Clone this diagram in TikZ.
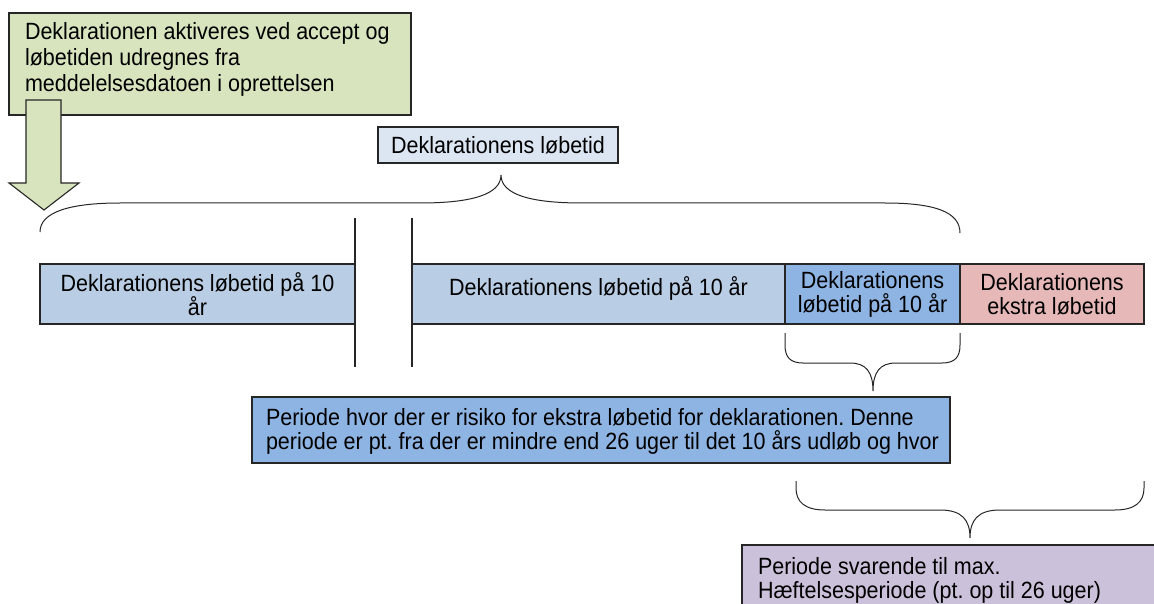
\documentclass[tikz,border=0pt]{standalone}
\usepackage{fontspec}
\setmainfont{Liberation Sans}[FakeStretch=0.915]
\definecolor{grn}{HTML}{D7E4BD}
\definecolor{lblue}{HTML}{DCE6F2}
\definecolor{mblue}{HTML}{B9CDE5}
\definecolor{dblue}{HTML}{8EB4E3}
\definecolor{pnk}{HTML}{E6B9B8}
\definecolor{prp}{HTML}{CCC1DA}
\definecolor{edge}{HTML}{262626}
\frenchspacing
\begin{document}
\begin{tikzpicture}[x=1pt,y=-1pt,
  box/.style={draw=edge,line width=1.1pt,inner sep=0pt,outer sep=0pt,anchor=north west},
  txt/.style={inner sep=0pt,outer sep=0pt,font=\fontsize{23.5}{24}\selectfont},
  brace/.style={draw=edge,line width=1pt}]
\useasboundingbox (0,0) rectangle (1154,604);
\clip (0,0) rectangle (1154,604);
% green box and arrow
\node[box,fill=grn,minimum width=402pt,minimum height=102pt] (g) at (9,13) {};
\node[txt,anchor=north west,align=left,font=\fontsize{23.5}{26}\selectfont] (gt) at (25,22.5)
  {Deklarationen aktiveres ved accept og\\løbetiden udregnes fra\\meddelelsesdatoen i oprettelsen};
\draw[draw=edge,line width=1.1pt,fill=grn,line join=miter]
  (26,100) -- (61,100) -- (61,183) -- (79,183) -- (44,210) -- (9,183) -- (26,183) -- cycle;
% top label
\node[box,fill=lblue,minimum width=240pt,minimum height=36pt] (t) at (378,127) {};
\node[txt] (tt) at (t.center) {Deklarationens løbetid};
% top brace
\draw[brace] (40,232) .. controls (40,212) and (70,203) .. (120,203) -- (420,203)
  .. controls (470,203) and (501,195) .. (501,175)
  .. controls (501,195) and (532,203) .. (582,203) -- (885,203)
  .. controls (935,203) and (960,212) .. (960,233);
% vertical lines
\draw[draw=edge,line width=1.1pt] (355,218) -- (355,367);
\draw[draw=edge,line width=1.1pt] (412,218) -- (412,367);
% bars
\node[box,fill=mblue,minimum width=315pt,minimum height=60pt] (b1) at (40,264) {};
\node[txt,align=center] at (b1.center) {Deklarationens løbetid på 10\\år};
\node[box,fill=mblue,minimum width=373pt,minimum height=60pt] (b2) at (412,264) {};
\node[txt,anchor=north] at ([yshift=-13pt]b2.north) {Deklarationens løbetid på 10 år};
\node[box,fill=dblue,minimum width=175pt,minimum height=60pt] (b3) at (785,264) {};
\node[txt,align=center] at (b3.center) {Deklarationens\\løbetid på 10 år};
\node[box,fill=pnk,minimum width=184pt,minimum height=60pt] (b4) at (960,264) {};
\node[txt,align=center] at (b4.center) {Deklarationens\\ekstra løbetid};
% small brace
\draw[brace] (785,333) -- (785,345) .. controls (785,357) and (790,363) .. (803,363) -- (850,363)
  .. controls (866,363) and (873,372) .. (873,391)
  .. controls (873,372) and (880,363) .. (896,363) -- (942,363)
  .. controls (955,363) and (960,357) .. (960,345) -- (960,333);
% blue period box
\node[box,fill=dblue,minimum width=698pt,minimum height=66pt] (p) at (252,397) {};
\node[txt,anchor=north west,align=left] at (266,408)
  {Periode hvor der er risiko for ekstra løbetid for deklarationen. Denne\\periode er pt. fra der er mindre end 26 uger til det 10 års udløb og hvor};
% lower brace
\draw[brace] (796,481) -- (796,488) .. controls (796,502) and (805,510) .. (825,510) -- (940,510)
  .. controls (962,510) and (970,520) .. (970,538)
  .. controls (970,520) and (978,510) .. (1000,510) -- (1115,510)
  .. controls (1135,510) and (1144,502) .. (1144,488) -- (1144,481);
% purple box
\node[box,fill=prp,minimum width=430pt,minimum height=80pt] (q) at (742,545) {};
\node[txt,anchor=north west,align=left] at (758,557)
  {Periode svarende til max.\\Hæftelsesperiode (pt. op til 26 uger)};
\end{tikzpicture}
\end{document}
